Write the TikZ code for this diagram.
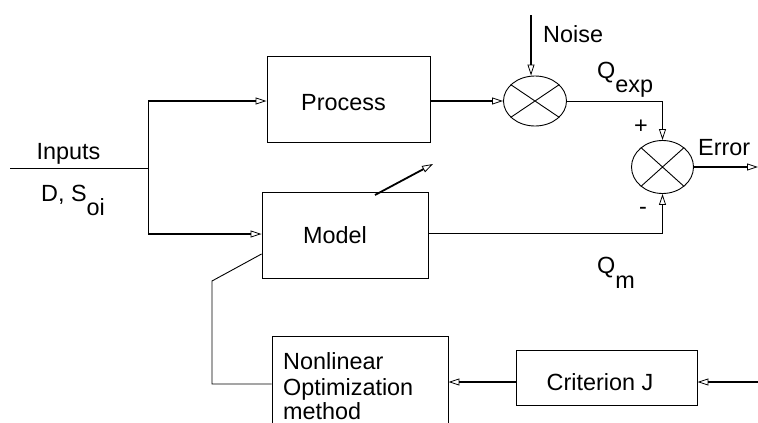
\documentclass[tikz,border=0pt]{standalone}
\usepackage{fontspec}
\setmainfont{Liberation Sans}
\usetikzlibrary{arrows.meta,shapes.geometric}
\begin{document}
\begin{tikzpicture}[x=1pt,y=-1pt]
\tikzset{
 blk/.style={draw=black, line width=0.9pt, rectangle, inner sep=0pt},
 summer/.style={draw=black, ellipse, line width=0.9pt, inner sep=0pt},
 lbl/.style={inner sep=0pt, font=\fontsize{23.4}{28}\selectfont},
 thinline/.style={line width=0.9pt},
 heavyline/.style={line width=1.8pt},
 tip/.style={-{Triangle[open,length=11pt,width=7pt,line width=0.8pt]}},
}
\useasboundingbox (0,0) rectangle (758,423);
\clip (0,0) rectangle (758,423);

% blocks
\node[blk, minimum width=163pt, minimum height=86pt] (proc) at (348.5,99) {};
\node[blk, minimum width=166pt, minimum height=86pt] (model) at (345,235) {};
\node[blk, minimum width=176pt, minimum height=110pt] (nl) at (360,391) {};
\node[blk, minimum width=181pt, minimum height=55pt] (crit) at (606.5,377.5) {};
\node[summer, minimum width=63pt, minimum height=50pt] (s1) at (535,101) {};
\node[summer, minimum width=62pt, minimum height=53pt] (s2) at (662.5,167) {};
\draw[thinline] (s1.34) -- (s1.214) (s1.146) -- (s1.326);
\draw[thinline] (s2.42) -- (s2.222) (s2.138) -- (s2.318);

% inputs
\coordinate (in) at (10,168);
\coordinate (split) at (148,168);
\coordinate (splitT) at (148,101);
\coordinate (splitB) at (148,234);
\draw[thinline] (in) -- (split);
\draw[thinline] (splitT) -- (splitB);
\draw[heavyline, tip] (splitT) -- (splitT -| proc.west);
\draw[heavyline, tip] (splitB) -- (splitB -| model.west);

% process to summer
\draw[heavyline, tip] (proc.east |- s1.west) -- (s1.west);
\coordinate (nz) at (531,15);
\draw[line width=1.3pt, tip] (nz) -- (nz |- s1.north);
\draw[thinline, tip] (s1.east) -| (s2.north);
\coordinate (my) at (0,233);
\draw[thinline, tip] (model.east |- my) -| (s2.south);
\coordinate (err) at (758,167);
\draw[line width=1.2pt, tip] (s2.east) -- (err);

% adjustment arrow
\coordinate (adjA) at (375,195);
\coordinate (adjB) at (433,164);
\draw[heavyline, tip] (adjA) -- (adjB);

% feedback from optimizer to model
\coordinate (fbY) at (0,254);
\coordinate (fb1) at (212,281);
\coordinate (fbZ) at (0,384);
\draw[thinline] (model.west |- fbY) -- (fb1) -- (fb1 |- fbZ) -- (nl.west |- fbZ);

% criterion arrows
\coordinate (jin) at (758,382);
\draw[heavyline, tip] (jin) -- (jin -| crit.east);
\draw[heavyline, tip] (jin -| crit.west) -- (jin -| nl.east);

% texts
\node[lbl, anchor=base] (tproc) at (343.5,110) {Process};
\node[lbl, anchor=base] (tmodel) at (335,243) {Model};
\node[lbl, anchor=base] (tcrit) at (600,390) {Criterion J};
\node[lbl, anchor=base west] (tnl1) at (283,369.5) {Nonlinear};
\node[lbl, anchor=base west] (tnl2) at (283,395.5) {Optimization};
\node[lbl, anchor=base west] (tnl3) at (283,419.5) {method};
\node[lbl, anchor=base] (tin) at (68.5,159) {Inputs};
\node[lbl, anchor=base west] (tds) at (41,201) {D, S\raisebox{-14pt}{oi}};
\node[lbl, anchor=base west] (tnoise) at (543,42) {Noise};
\node[lbl, anchor=base west] (tqexp) at (597,78) {Q\raisebox{-14pt}{exp}};
\node[lbl, anchor=base west] (tqm) at (597,273) {Q\raisebox{-15pt}{m}};
\node[lbl, anchor=base west] (terr) at (698,155) {Error};
\node[lbl, anchor=base] (tplus) at (641,133.5) {+};
\node[lbl, anchor=base] (tminus) at (643,214.5) {-};
\end{tikzpicture}
\end{document}
